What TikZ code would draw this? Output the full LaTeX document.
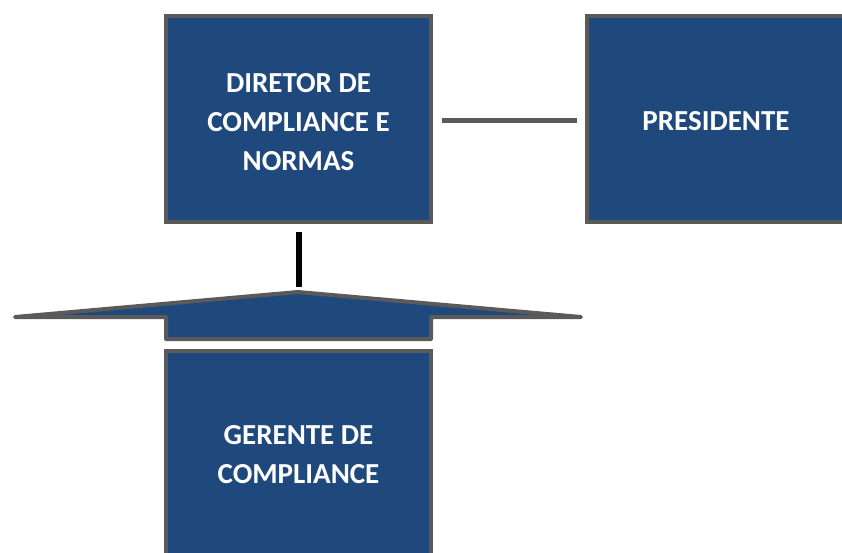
\documentclass[tikz,border=0pt]{standalone}
\usepackage{fontspec}
\setmainfont{Carlito}
\definecolor{boxblue}{RGB}{31,73,125}
\definecolor{boxgray}{RGB}{90,90,90}
\tikzset{
  orgbox/.style={fill=boxblue, draw=boxgray, line width=4pt},
  orgtext/.style={text=white, font=\fontsize{29}{39}\selectfont\bfseries, align=center},
  graylink/.style={draw=boxgray, line width=5pt},
  blacklink/.style={draw=black, line width=6pt}
}
\begin{document}
\begin{tikzpicture}[x=1pt,y=-1pt]
\useasboundingbox (0,0) rectangle (842,553);
\clip (0,0) rectangle (842,553);
% boxes
\draw[orgbox] (166,16) rectangle (431,222);
\node[orgtext] (dir) at (298.5,122) {DIRETOR DE\\COMPLIANCE E\\NORMAS};
\coordinate (dirR) at (442,121);
\draw[orgbox] (587,16) rectangle (852,222);
\node[orgtext] (pres) at (716,121) {PRESIDENTE};
\coordinate (presL) at (577,121);
\draw[graylink] (dirR) -- (presL);
% arrow shape
\draw[fill=boxblue, draw=boxgray, line width=4pt, line join=round]
  (15,317) -- (298,292) -- (581,317) -- (431,317) -- (431,339) -- (166,339) -- (166,317) -- cycle;
\coordinate (dirB) at (299,232);
\coordinate (arrTop) at (299,287);
\draw[blacklink] (dirB) -- (arrTop);
% gerente box
\draw[orgbox] (166,351) rectangle (431,562);
\node[orgtext] (ger) at (298.5,455) {GERENTE DE\\COMPLIANCE};
\end{tikzpicture}
\end{document}
